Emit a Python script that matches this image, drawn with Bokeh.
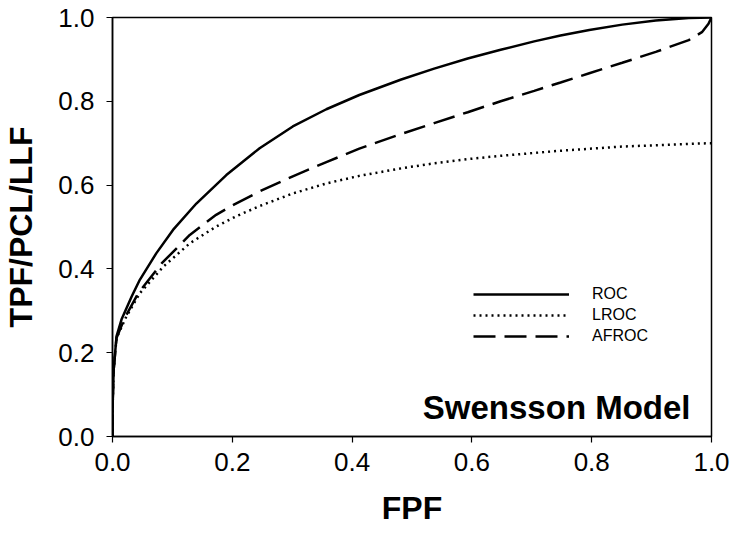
from bokeh.plotting import figure
from bokeh.models import Range1d, FixedTicker, PrintfTickFormatter, Legend, LegendItem, Label
from bokeh.embed import file_html
from bokeh.resources import INLINE

# ---- data ----
fpf_roc = [0, 0.0005, 0.002, 0.0067, 0.015, 0.032, 0.0456, 0.073, 0.101, 0.14, 0.19, 0.2456, 0.301,
           0.357, 0.412, 0.482, 0.537, 0.593, 0.648, 0.704, 0.748, 0.796, 0.851, 0.907, 0.962, 1.0]
roc = [0, 0.09, 0.16, 0.239, 0.279, 0.334, 0.374, 0.437, 0.493, 0.556, 0.624, 0.688, 0.740,
       0.781, 0.815, 0.852, 0.878, 0.902, 0.923, 0.943, 0.957, 0.970, 0.983, 0.993, 0.999, 1.0]

fpf_lroc = [0, 0.0005, 0.002, 0.0067, 0.023, 0.0456, 0.0845, 0.129, 0.173, 0.207, 0.2456, 0.301,
            0.357, 0.412, 0.482, 0.537, 0.593, 0.648, 0.748, 0.851, 0.995, 1.0]
lroc = [0, 0.09, 0.16, 0.235, 0.286, 0.342, 0.405, 0.461, 0.501, 0.526, 0.550, 0.580,
        0.604, 0.622, 0.640, 0.652, 0.662, 0.670, 0.682, 0.692, 0.700, 0.700]

fpf_afroc = [0, 0.0005, 0.002, 0.0067, 0.0205, 0.043, 0.082, 0.129, 0.173, 0.198, 0.2456, 0.301,
             0.357, 0.412, 0.482, 0.537, 0.593, 0.648, 0.704, 0.748, 0.796, 0.851, 0.907, 0.962,
             0.984, 0.995, 1.0]
afroc = [0, 0.09, 0.16, 0.235, 0.283, 0.342, 0.413, 0.481, 0.529, 0.550, 0.585, 0.621,
         0.655, 0.687, 0.722, 0.748, 0.774, 0.800, 0.825, 0.845, 0.867, 0.892, 0.918, 0.946,
         0.965, 0.985, 1.0]

tick_values = [0.0, 0.2, 0.4, 0.6, 0.8, 1.0]
series_names = ["ROC", "LROC", "AFROC"]

FONT = "Liberation Sans"

p = figure(width=733, height=528, output_backend="svg", toolbar_location=None,
           x_range=Range1d(0, 1), y_range=Range1d(0, 1),
           min_border_left=111, min_border_right=22, min_border_top=17, min_border_bottom=91)
p.background_fill_color = "white"
p.border_fill_color = "white"
p.outline_line_color = "black"
p.outline_line_width = 1.5
p.xgrid.visible = False
p.ygrid.visible = False

for ax in (p.xaxis[0], p.yaxis[0]):
    ax.ticker = FixedTicker(ticks=tick_values)
    ax.formatter = PrintfTickFormatter(format="%.1f")
    ax.minor_tick_line_color = None
    ax.major_tick_in = 0
    ax.major_tick_out = 6
    ax.major_tick_line_width = 1.2
    ax.axis_line_width = 1.5
    ax.axis_line_color = "black"
    ax.major_label_text_font = FONT
    ax.major_label_text_font_size = "26px"
    ax.major_label_text_color = "black"
    ax.axis_label_text_font = FONT
    ax.axis_label_text_font_size = "32px"
    ax.axis_label_text_font_style = "bold"
    ax.axis_label_text_color = "black"

p.xaxis.axis_label = "FPF"
p.yaxis.axis_label = "TPF/PCL/LLF"
p.xaxis.major_label_standoff = 10
p.yaxis.major_label_standoff = 12
p.xaxis.axis_label_standoff = 16
p.yaxis.axis_label_standoff = 16

r_roc = p.line(fpf_roc, roc, line_color="black", line_width=2.5, line_join="round")
r_lroc = p.line(fpf_lroc, lroc, line_color="black", line_width=2.5, line_dash="2 4")
r_afroc = p.line(fpf_afroc, afroc, line_color="black", line_width=2.5, line_dash="22 9")

legend = Legend(items=[LegendItem(label=series_names[0], renderers=[r_roc]),
                       LegendItem(label=series_names[1], renderers=[r_lroc]),
                       LegendItem(label=series_names[2], renderers=[r_afroc])],
                location=(361, 90), glyph_width=96, glyph_height=20, label_height=20,
                label_standoff=23, spacing=1, padding=0, margin=0,
                border_line_color=None, background_fill_alpha=0,
                label_text_font=FONT, label_text_font_size="16px", label_text_color="black")
p.add_layout(legend, "center")

p.add_layout(Label(x=0.965, y=0.069, text="Swensson Model", text_align="right",
                   text_baseline="alphabetic", text_font=FONT, text_font_size="33px",
                   text_font_style="bold", text_color="black"))

open("out.html", "w").write(file_html(p, INLINE))
